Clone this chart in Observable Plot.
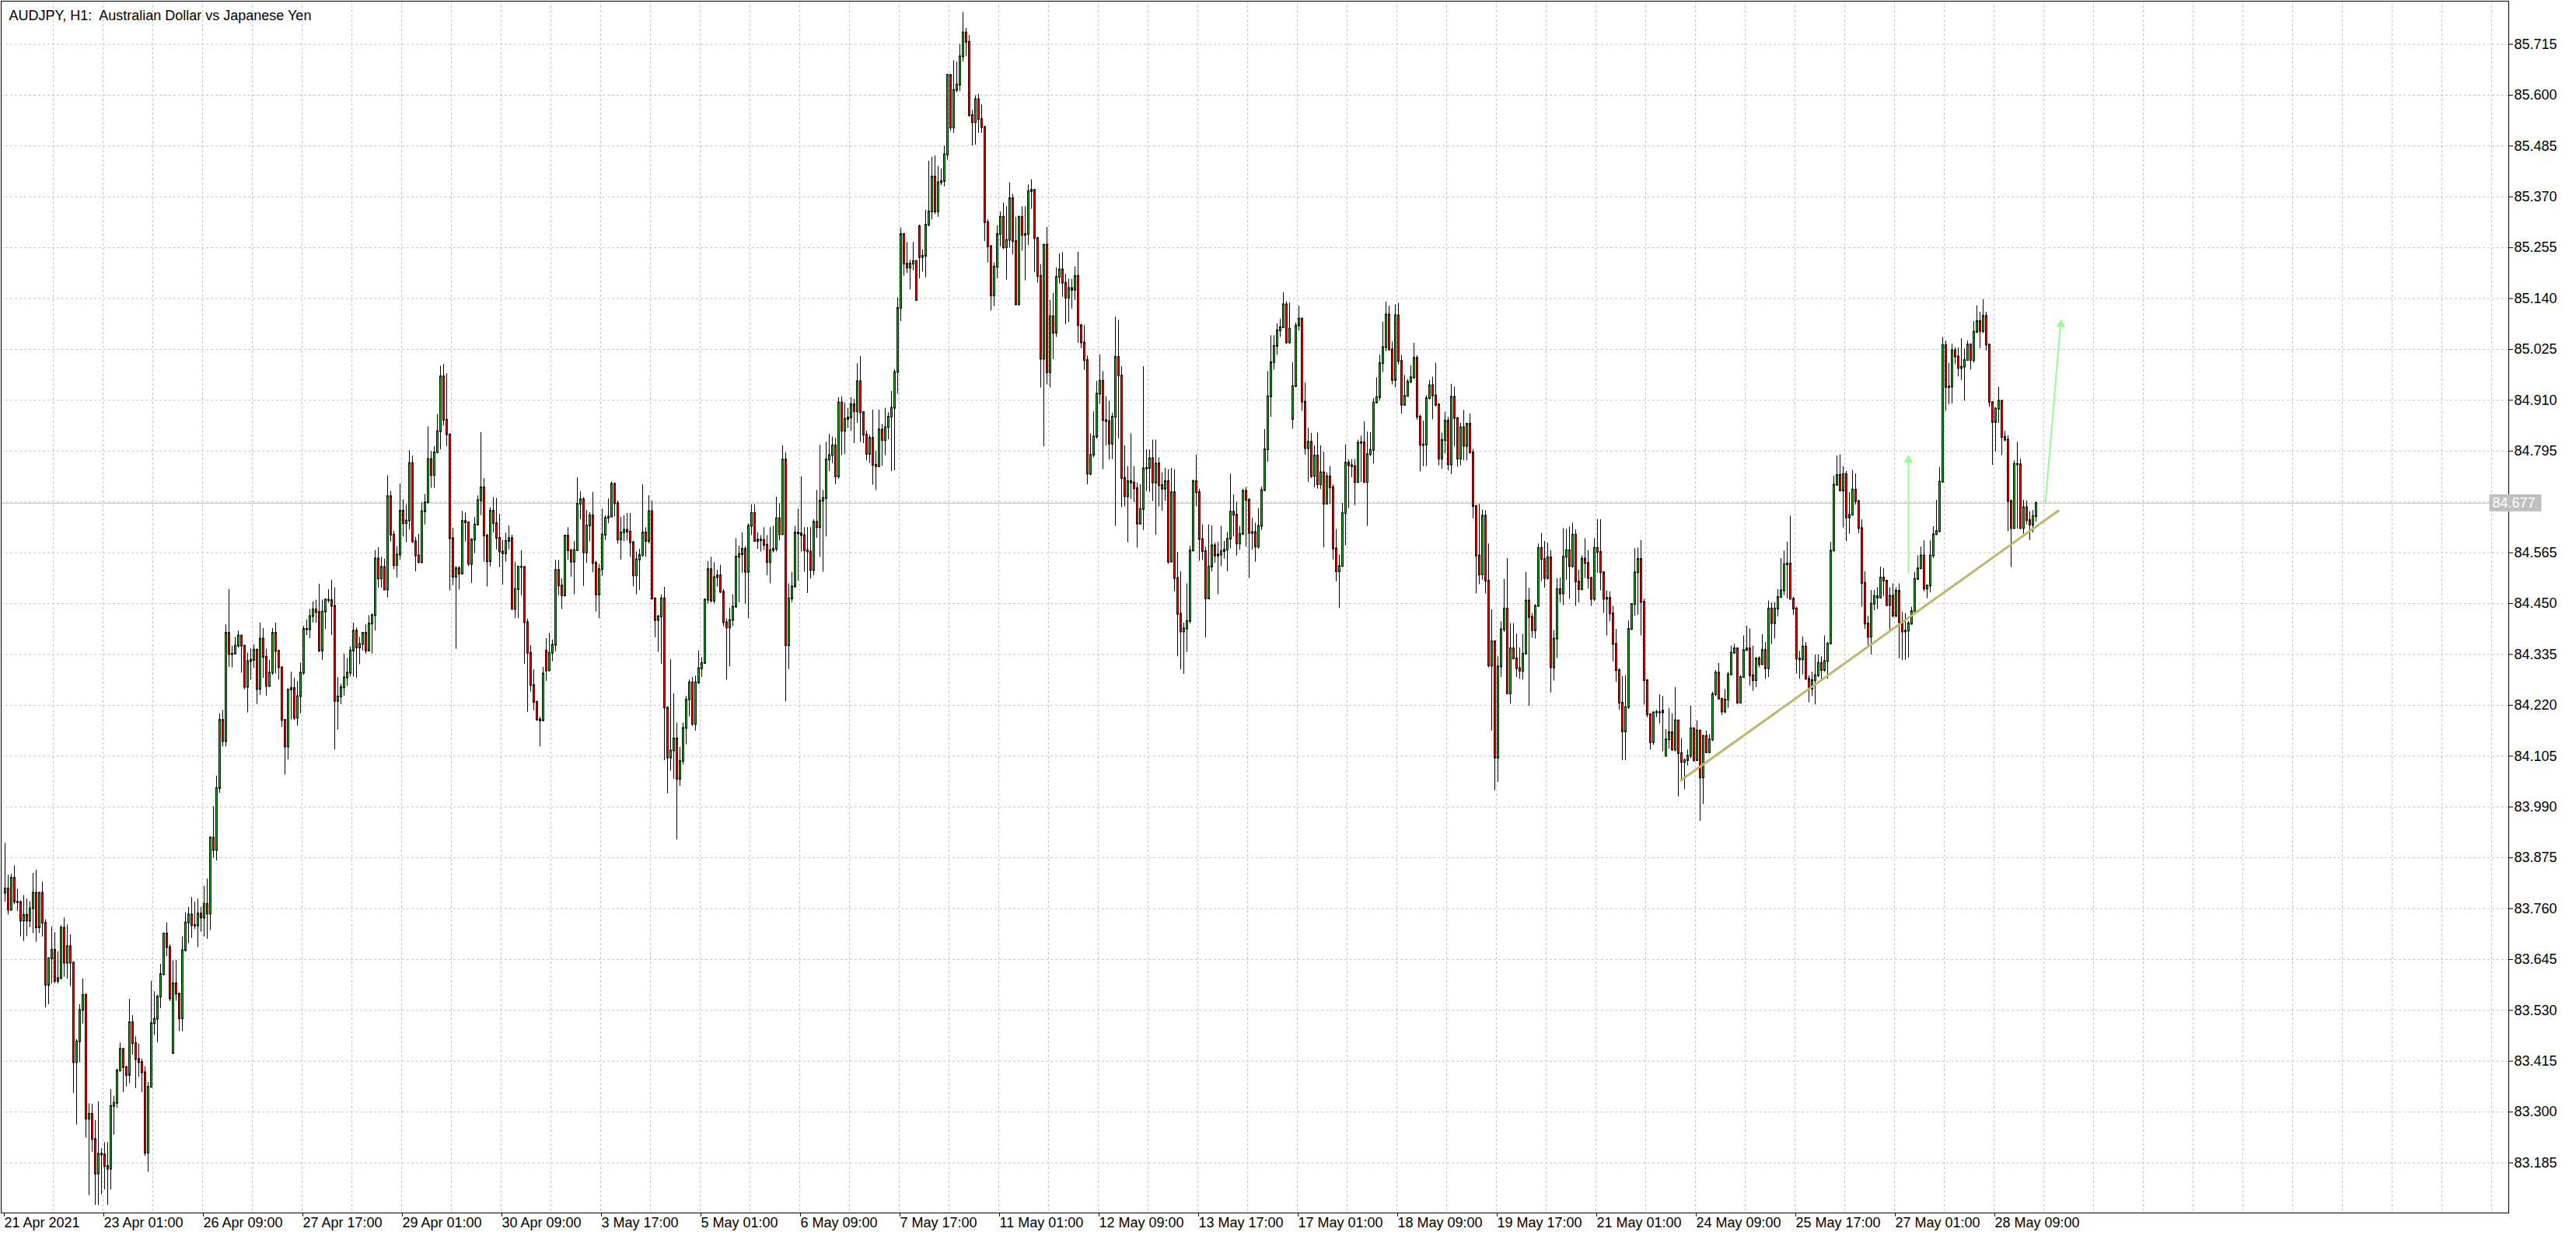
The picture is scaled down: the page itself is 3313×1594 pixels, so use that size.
<!DOCTYPE html>
<html><head><meta charset="utf-8">
<script src="https://cdn.jsdelivr.net/npm/d3@7"></script>
<script src="https://cdn.jsdelivr.net/npm/@observablehq/plot@0.6"></script>
<style>html,body{margin:0;padding:0;background:#fff;overflow:hidden}</style>
</head><body><div id="chart"></div>
<script>
const title = "AUDJPY, H1:  Australian Dollar vs Japanese Yen";
const xLabels = ["21 Apr 2021","23 Apr 01:00","26 Apr 09:00","27 Apr 17:00","29 Apr 01:00","30 Apr 09:00","3 May 17:00","5 May 01:00","6 May 09:00","7 May 17:00","11 May 01:00","12 May 09:00","13 May 17:00","17 May 01:00","18 May 09:00","19 May 17:00","21 May 01:00","24 May 09:00","25 May 17:00","27 May 01:00","28 May 09:00"];
const yTicks = [85.715,85.600,85.485,85.370,85.255,85.140,85.025,84.910,84.795,84.565,84.450,84.335,84.220,84.105,83.990,83.875,83.760,83.645,83.530,83.415,83.300,83.185];
const hiddenGridPrice = 84.680;
const lastPrice = 84.677;
const firstOpen = 83.795;
// bars that open after a weekend gap: [bar, open]
const gapOpens = [[54,83.433],[174,84.343],[294,85.303],[414,84.867],[534,84.105]];

const closes = [
83.805,83.757,83.829,83.775,83.774,83.732,83.745,83.732,83.760,83.795,
83.717,83.795,83.727,83.587,83.647,83.666,83.596,83.602,83.716,83.637,
83.674,83.637,83.412,83.459,83.530,83.564,83.284,83.295,83.238,83.160,
83.205,83.203,83.177,83.171,83.313,83.320,83.393,83.442,83.401,83.383,
83.502,83.455,83.419,83.412,83.389,83.207,83.356,83.500,83.510,83.560,
83.611,83.703,83.672,83.556,83.590,83.567,83.511,83.665,83.728,83.746,
83.722,83.721,83.748,83.739,83.770,83.748,83.920,83.892,84.032,84.186,
84.138,84.383,84.335,84.336,84.354,84.377,84.354,84.261,84.319,84.322,
84.345,84.256,84.370,84.329,84.263,84.293,84.383,84.342,84.305,84.186,
84.126,84.255,84.258,84.191,84.240,84.293,84.392,84.391,84.421,84.436,
84.430,84.343,84.431,84.458,84.457,84.444,84.229,84.239,84.260,84.282,
84.293,84.343,84.388,84.350,84.358,84.383,84.343,84.404,84.423,84.551,
84.506,84.532,84.481,84.692,84.605,84.536,84.560,84.659,84.631,84.637,
84.767,84.590,84.558,84.543,84.658,84.678,84.776,84.740,84.791,84.839,
84.963,84.865,84.832,84.597,84.510,84.529,84.517,84.636,84.633,84.539,
84.594,84.628,84.683,84.712,84.603,84.545,84.659,84.631,84.598,84.567,
84.563,84.591,84.597,84.437,84.482,84.533,84.532,84.407,84.338,84.265,
84.227,84.187,84.185,84.291,84.298,84.338,84.356,84.525,84.490,84.468,
84.603,84.570,84.544,84.570,84.675,84.685,84.565,84.626,84.649,84.541,
84.470,84.527,84.605,84.643,84.646,84.720,84.676,84.594,84.610,84.616,
84.612,84.588,84.513,84.549,84.559,84.610,84.591,84.658,84.461,84.412,
84.420,84.461,84.214,84.101,84.117,84.144,84.053,84.093,84.168,84.232,
84.271,84.177,84.271,84.303,84.315,84.458,84.527,84.456,84.509,84.513,
84.476,84.407,84.395,84.412,84.442,84.555,84.561,84.573,84.521,84.625,
84.654,84.591,84.594,84.593,84.582,84.543,84.570,84.573,84.642,84.606,
84.775,84.355,84.461,84.488,84.610,84.608,84.604,84.570,84.567,84.525,
84.634,84.622,84.682,84.688,84.775,84.785,84.807,84.737,84.904,84.840,
84.867,84.870,84.900,84.884,84.952,84.882,84.831,84.788,84.824,84.763,
84.760,84.843,84.819,84.848,84.872,84.892,84.973,85.118,85.285,85.218,
85.209,85.218,85.224,85.136,85.233,85.236,85.306,85.336,85.415,85.336,
85.402,85.405,85.465,85.645,85.526,85.611,85.623,85.687,85.741,85.720,
85.554,85.538,85.590,85.545,85.527,85.312,85.257,85.146,85.211,85.285,
85.324,85.255,85.272,85.366,85.269,85.126,85.324,85.283,85.285,85.382,
85.385,85.276,85.190,85.003,85.261,84.972,85.099,85.062,85.188,85.205,
85.175,85.141,85.163,85.159,85.190,85.079,85.040,85.000,84.743,84.786,
84.827,84.924,84.953,84.864,84.862,84.811,84.872,85.007,84.965,84.733,
84.692,84.726,84.723,84.710,84.630,84.663,84.755,84.756,84.778,84.723,
84.766,84.717,84.709,84.726,84.544,84.701,84.507,84.426,84.386,84.393,
84.410,84.569,84.726,84.701,84.595,84.568,84.461,84.533,84.581,84.558,
84.560,84.568,84.571,84.596,84.657,84.650,84.585,84.607,84.704,84.684,
84.609,84.611,84.578,84.625,84.706,84.798,84.918,84.995,85.032,85.067,
85.074,85.126,85.040,85.071,84.941,85.078,85.094,84.906,84.801,84.815,
84.738,84.784,84.719,84.746,84.675,84.737,84.712,84.574,84.522,84.534,
84.654,84.768,84.762,84.760,84.724,84.813,84.814,84.724,84.787,84.797,
84.904,84.916,84.993,85.029,85.103,85.024,84.955,85.101,84.998,84.899,
84.919,84.951,84.961,85.005,84.872,84.808,84.809,84.914,84.943,84.920,
84.899,84.777,84.819,84.863,84.764,84.917,84.869,84.777,84.848,84.806,
84.856,84.791,84.670,84.558,84.515,84.648,84.501,84.309,84.364,84.101,
84.307,84.391,84.438,84.246,84.348,84.325,84.303,84.297,84.336,84.456,
84.419,84.389,84.444,84.575,84.550,84.507,84.554,84.305,84.370,84.482,
84.472,84.555,84.570,84.534,84.605,84.499,84.482,84.551,84.541,84.507,
84.460,84.575,84.566,84.520,84.460,84.462,84.427,84.358,84.299,84.225,
84.160,84.215,84.392,84.448,84.520,84.550,84.453,84.276,84.199,84.136,
84.203,84.204,84.203,84.207,84.142,84.158,84.119,84.185,84.111,84.091,
84.095,84.105,84.167,84.095,84.162,84.056,84.150,84.113,84.142,84.244,
84.293,84.234,84.205,84.232,84.289,84.338,84.348,84.225,84.283,84.344,
84.348,84.287,84.276,84.325,84.312,84.344,84.303,84.438,84.405,84.438,
84.464,84.479,84.538,84.540,84.460,84.438,84.325,84.323,84.352,84.279,
84.257,84.276,84.287,84.315,84.299,84.319,84.359,84.569,84.718,84.740,
84.705,84.742,84.644,84.650,84.707,84.681,84.620,84.496,84.404,84.374,
84.449,84.466,84.463,84.508,84.501,84.446,84.467,84.422,84.478,84.407,
84.386,84.388,84.404,84.432,84.505,84.529,84.558,84.483,84.490,84.558,
84.606,84.613,84.725,85.034,84.939,84.940,85.022,85.008,84.982,84.985,
85.000,85.035,85.000,85.064,85.088,85.066,85.100,85.035,84.905,84.860,
84.890,84.908,84.826,84.820,84.681,84.620,84.765,84.764,84.620,84.667,
84.638,84.628,84.647,84.677];

const highs = [
83.908,83.836,83.838,83.857,83.804,83.778,83.790,83.782,83.776,83.840,
83.847,83.797,83.820,83.735,83.649,83.719,83.706,83.663,83.722,83.739,
83.723,83.701,83.640,83.464,83.543,83.601,83.568,83.319,83.318,83.281,
83.323,83.217,83.231,83.231,83.351,83.336,83.397,83.456,83.442,83.403,
83.555,83.518,83.470,83.454,83.420,83.403,83.367,83.596,83.572,83.565,
83.634,83.705,83.728,83.678,83.642,83.643,83.568,83.696,83.751,83.763,
83.785,83.775,83.782,83.763,83.811,83.827,83.922,83.991,84.060,84.201,
84.209,84.402,84.482,84.354,84.374,84.388,84.378,84.354,84.338,84.348,
84.357,84.347,84.406,84.394,84.347,84.322,84.394,84.406,84.345,84.306,
84.187,84.256,84.295,84.281,84.274,84.316,84.399,84.413,84.437,84.454,
84.458,84.494,84.458,84.461,84.482,84.503,84.486,84.283,84.268,84.336,
84.326,84.352,84.406,84.395,84.374,84.385,84.402,84.423,84.427,84.570,
84.577,84.555,84.551,84.739,84.704,84.614,84.579,84.721,84.685,84.674,
84.796,84.784,84.600,84.607,84.678,84.697,84.850,84.794,84.805,84.878,
84.987,84.991,84.970,84.832,84.621,84.534,84.534,84.659,84.655,84.635,
84.597,84.645,84.694,84.837,84.733,84.607,84.667,84.690,84.688,84.652,
84.593,84.610,84.626,84.605,84.544,84.533,84.570,84.533,84.415,84.355,
84.300,84.229,84.194,84.306,84.371,84.383,84.368,84.548,84.548,84.506,
84.605,84.622,84.572,84.591,84.735,84.703,84.690,84.661,84.656,84.702,
84.546,84.539,84.664,84.649,84.687,84.725,84.723,84.682,84.646,84.649,
84.654,84.654,84.591,84.567,84.573,84.719,84.622,84.694,84.682,84.461,
84.424,84.470,84.487,84.216,84.323,84.246,84.180,84.125,84.180,84.240,
84.277,84.283,84.286,84.343,84.328,84.461,84.545,84.555,84.543,84.525,
84.537,84.482,84.416,84.440,84.470,84.597,84.580,84.610,84.579,84.630,
84.674,84.674,84.610,84.604,84.622,84.604,84.622,84.625,84.691,84.676,
84.807,84.791,84.495,84.521,84.625,84.664,84.737,84.622,84.622,84.622,
84.640,84.706,84.809,84.706,84.815,84.833,84.827,84.824,84.916,84.918,
84.904,84.892,84.916,84.912,84.993,85.009,84.884,84.840,84.831,84.888,
84.795,84.888,84.855,84.892,84.882,84.930,84.979,85.142,85.300,85.285,
85.267,85.227,85.267,85.226,85.306,85.250,85.340,85.451,85.460,85.463,
85.439,85.433,85.485,85.647,85.645,85.678,85.675,85.715,85.787,85.751,
85.735,85.566,85.599,85.602,85.578,85.530,85.318,85.261,85.221,85.305,
85.336,85.356,85.348,85.402,85.376,85.324,85.327,85.348,85.348,85.397,
85.409,85.385,85.278,85.217,85.261,85.301,85.136,85.152,85.210,85.241,
85.244,85.195,85.184,85.184,85.212,85.245,85.079,85.079,85.010,84.834,
84.884,84.953,85.013,84.975,84.918,84.908,84.881,85.098,85.091,84.986,
84.807,84.760,84.834,84.760,84.723,84.719,84.986,84.798,84.797,84.820,
84.820,84.780,84.746,84.756,84.753,84.756,84.753,84.566,84.522,84.406,
84.495,84.580,84.730,84.786,84.709,84.628,84.578,84.628,84.626,84.587,
84.589,84.625,84.591,84.611,84.743,84.696,84.679,84.625,84.709,84.713,
84.688,84.643,84.632,84.665,84.714,84.844,84.975,85.056,85.056,85.083,
85.093,85.153,85.133,85.130,84.995,85.085,85.123,85.094,84.949,84.847,
84.835,84.807,84.836,84.807,84.793,84.746,84.760,84.719,84.618,84.560,
84.677,84.809,84.775,84.776,84.776,84.820,84.829,84.861,84.838,84.837,
84.914,84.961,85.012,85.087,85.132,85.123,85.042,85.126,85.130,85.011,
84.966,84.957,84.988,85.039,85.011,84.877,84.863,84.920,84.955,84.962,
84.994,84.903,84.836,84.883,84.871,84.946,84.940,84.871,84.858,84.887,
84.858,84.879,84.799,84.672,84.675,84.662,84.660,84.585,84.436,84.366,
84.330,84.409,84.505,84.552,84.405,84.405,84.381,84.350,84.381,84.521,
84.485,84.428,84.448,84.585,84.609,84.591,84.587,84.570,84.389,84.507,
84.508,84.620,84.618,84.623,84.632,84.617,84.526,84.558,84.597,84.570,
84.510,84.597,84.640,84.640,84.522,84.479,84.477,84.444,84.392,84.303,
84.285,84.287,84.411,84.448,84.575,84.576,84.593,84.460,84.278,84.201,
84.205,84.209,84.244,84.240,84.165,84.213,84.201,84.260,84.185,84.145,
84.099,84.119,84.218,84.170,84.185,84.164,84.152,84.162,84.154,84.250,
84.299,84.315,84.236,84.256,84.295,84.354,84.358,84.350,84.287,84.377,
84.399,84.393,84.354,84.328,84.330,84.380,84.362,84.456,84.452,84.453,
84.482,84.552,84.569,84.589,84.648,84.464,84.442,84.342,84.375,84.362,
84.287,84.295,84.334,84.334,84.330,84.377,84.362,84.589,84.738,84.784,
84.787,84.760,84.749,84.701,84.751,84.743,84.684,84.640,84.522,84.422,
84.480,84.480,84.486,84.533,84.529,84.503,84.486,84.495,84.486,84.495,
84.431,84.428,84.410,84.442,84.521,84.558,84.578,84.592,84.492,84.592,
84.624,84.684,84.758,85.052,85.044,84.994,85.037,85.029,85.028,85.049,
85.026,85.044,85.038,85.088,85.124,85.109,85.138,85.109,85.037,84.906,
84.894,84.940,84.905,84.840,84.830,84.685,84.773,84.815,84.777,84.684,
84.682,84.658,84.661,84.679];

const lows = [
83.775,83.746,83.754,83.769,83.754,83.697,83.686,83.697,83.717,83.704,
83.684,83.704,83.696,83.536,83.543,83.590,83.590,83.590,83.599,83.605,
83.601,83.584,83.342,83.271,83.412,83.499,83.241,83.111,83.209,83.089,
83.089,83.113,83.124,83.089,83.124,83.248,83.309,83.391,83.344,83.357,
83.364,83.429,83.353,83.379,83.344,83.200,83.164,83.357,83.473,83.457,
83.534,83.608,83.652,83.550,83.430,83.551,83.482,83.482,83.662,83.681,
83.693,83.713,83.672,83.707,83.696,83.691,83.711,83.874,83.868,84.021,
84.126,84.126,84.306,84.305,84.336,84.350,84.293,84.255,84.203,84.277,
84.304,84.222,84.243,84.281,84.241,84.261,84.288,84.291,84.277,84.170,
84.062,84.097,84.187,84.186,84.173,84.201,84.288,84.378,84.371,84.406,
84.406,84.340,84.322,84.392,84.451,84.378,84.119,84.164,84.222,84.241,
84.263,84.284,84.284,84.281,84.312,84.343,84.336,84.343,84.336,84.388,
84.485,84.485,84.481,84.463,84.590,84.527,84.508,84.548,84.601,84.588,
84.617,84.586,84.522,84.540,84.540,84.628,84.678,84.711,84.711,84.790,
84.798,84.852,84.805,84.479,84.491,84.347,84.481,84.517,84.590,84.534,
84.496,84.563,84.628,84.649,84.544,84.488,84.533,84.610,84.572,84.532,
84.492,84.544,84.572,84.437,84.416,84.416,84.468,84.313,84.204,84.250,
84.208,84.184,84.126,84.184,84.274,84.297,84.319,84.341,84.468,84.437,
84.465,84.548,84.510,84.470,84.569,84.640,84.489,84.541,84.590,84.520,
84.431,84.416,84.512,84.593,84.631,84.645,84.646,84.585,84.549,84.590,
84.592,84.555,84.488,84.470,84.480,84.555,84.555,84.585,84.458,84.373,
84.340,84.313,84.095,84.020,84.071,84.053,83.916,84.037,84.085,84.131,
84.194,84.173,84.162,84.267,84.283,84.313,84.449,84.452,84.449,84.488,
84.473,84.398,84.277,84.307,84.398,84.442,84.452,84.519,84.449,84.416,
84.604,84.589,84.573,84.567,84.570,84.513,84.495,84.565,84.567,84.592,
84.604,84.228,84.301,84.452,84.485,84.501,84.567,84.521,84.473,84.506,
84.513,84.598,84.555,84.521,84.601,84.749,84.767,84.719,84.731,84.785,
84.788,84.846,84.840,84.812,84.858,84.815,84.812,84.773,84.767,84.718,
84.706,84.758,84.761,84.785,84.821,84.749,84.751,84.924,85.088,85.191,
85.197,85.160,85.203,85.134,85.185,85.200,85.187,85.303,85.318,85.330,
85.324,85.396,85.393,85.453,85.518,85.514,85.606,85.608,85.675,85.687,
85.550,85.485,85.487,85.514,85.514,85.269,85.221,85.112,85.122,85.185,
85.257,85.251,85.182,85.255,85.239,85.124,85.124,85.247,85.180,85.260,
85.342,85.199,85.175,84.938,84.805,84.945,84.938,85.002,85.052,85.173,
85.143,85.081,85.086,85.116,85.136,85.039,85.027,84.978,84.719,84.739,
84.780,84.822,84.901,84.753,84.807,84.775,84.776,84.625,84.823,84.667,
84.669,84.588,84.686,84.679,84.576,84.628,84.616,84.704,84.702,84.681,
84.605,84.669,84.659,84.682,84.539,84.543,84.477,84.330,84.300,84.290,
84.340,84.404,84.568,84.669,84.546,84.548,84.373,84.460,84.522,84.541,
84.470,84.534,84.551,84.522,84.574,84.601,84.558,84.571,84.605,84.578,
84.507,84.571,84.544,84.573,84.616,84.704,84.770,84.871,84.978,85.012,
85.052,85.073,85.037,85.037,84.845,84.939,85.066,84.885,84.786,84.724,
84.733,84.712,84.709,84.708,84.576,84.674,84.674,84.549,84.499,84.439,
84.534,84.581,84.665,84.735,84.672,84.723,84.724,84.723,84.625,84.783,
84.766,84.903,84.908,84.973,85.020,85.022,84.945,84.938,84.990,84.879,
84.897,84.918,84.948,84.957,84.865,84.748,84.760,84.760,84.911,84.866,
84.895,84.762,84.754,84.789,84.750,84.742,84.805,84.759,84.762,84.773,
84.773,84.789,84.642,84.472,84.493,84.503,84.472,84.305,84.162,84.027,
84.046,84.283,84.385,84.244,84.223,84.323,84.283,84.279,84.278,84.336,
84.218,84.372,84.370,84.442,84.500,84.485,84.503,84.248,84.275,84.326,
84.452,84.446,84.503,84.460,84.530,84.444,84.452,84.479,84.507,84.483,
84.444,84.455,84.519,84.479,84.428,84.377,84.409,84.319,84.272,84.209,
84.095,84.095,84.211,84.389,84.422,84.424,84.377,84.221,84.192,84.119,
84.130,84.192,84.178,84.115,84.103,84.121,84.117,84.115,84.013,84.048,
84.029,84.083,84.099,84.091,84.095,83.958,83.996,84.111,84.111,84.138,
84.240,84.232,84.197,84.201,84.213,84.287,84.338,84.222,84.223,84.281,
84.346,84.264,84.252,84.260,84.305,84.311,84.279,84.283,84.358,84.370,
84.420,84.464,84.468,84.461,84.458,84.424,84.291,84.279,84.289,84.278,
84.226,84.240,84.221,84.283,84.276,84.295,84.279,84.358,84.568,84.716,
84.704,84.621,84.590,84.607,84.649,84.673,84.608,84.442,84.392,84.355,
84.334,84.434,84.437,84.464,84.466,84.443,84.389,84.418,84.418,84.325,
84.321,84.322,84.327,84.401,84.431,84.503,84.527,84.477,84.461,84.475,
84.552,84.604,84.610,84.723,84.885,84.900,84.902,84.991,84.963,84.955,
84.908,84.999,84.979,84.994,85.061,85.027,85.061,85.022,84.894,84.763,
84.793,84.858,84.785,84.816,84.613,84.532,84.618,84.619,84.618,84.607,
84.628,84.593,84.610,84.634];

// drawn objects (bar index, price)
const trendline = [{bar: 538.8, price: 84.050}, {bar: 660.2, price: 84.660}];
const arrows = [
  {bar1: 612, price1: 84.519, bar2: 612, price2: 84.785},
  {bar1: 656, price1: 84.677, bar2: 661, price2: 85.092}
];

if (closes.length !== highs.length || closes.length !== lows.length) {
  throw new Error("length mismatch " + closes.length + " " + highs.length + " " + lows.length);
}

const gapMap = new Map(gapOpens);
const bars = closes.map((c, i) => ({
  i,
  o: i === 0 ? firstOpen : (gapMap.has(i) ? gapMap.get(i) : closes[i - 1]),
  h: highs[i], l: lows[i], c
}));

const W = 3313, H = 1594, MT = 1, MR = 87, MB = 34, ML = 1;
const xDomain = [-1.25, 805];
const yDomain = [83.0717, 85.8126];
const xTicks = xLabels.map((_, k) => 32 * k - 0.5);
const labelOf = new Map(xTicks.map((t, k) => [t, xLabels[k]]));
const gridBars = d3.range(1, 51).map(k => 16 * k - 0.5);
const gridPrices = [...yTicks, hiddenGridPrice];

const GREEN = "#1fb41f", RED = "#f00000", GRID = "#c4c4c4";
const ARROW = "#98fb98", TREND = "#bdb76b";

const xs = Plot.scale({x: {type: "linear", domain: xDomain, range: [ML, W - MR]}});
const ys = Plot.scale({y: {type: "linear", domain: yDomain, range: [H - MB, MT]}});
arrows.forEach(a => {
  a.angle = Math.atan2(xs.apply(a.bar2) - xs.apply(a.bar1), ys.apply(a.price1) - ys.apply(a.price2)) * 180 / Math.PI;
});

const chart = Plot.plot({
  width: W, height: H,
  marginTop: MT, marginRight: MR, marginBottom: MB, marginLeft: ML,
  style: {fontFamily: "'Liberation Sans', Arial, sans-serif", fontSize: "18px", background: "#ffffff", color: "#000000"},
  x: {type: "linear", domain: xDomain},
  y: {type: "linear", domain: yDomain},
  marks: [
    Plot.ruleY(gridPrices, {stroke: GRID, strokeDasharray: "3,3"}),
    Plot.ruleX(gridBars, {stroke: GRID, strokeDasharray: "3,3"}),
    Plot.ruleY([lastPrice], {stroke: "#c0c0c0"}),
    Plot.ruleX(bars, {x: "i", y1: "l", y2: "h", stroke: "#000000", strokeWidth: 1}),
    Plot.rect(bars, {
      x1: d => d.i - 0.125, x2: d => d.i + 0.375,
      y1: "o", y2: "c",
      fill: d => d.c >= d.o ? GREEN : RED,
      stroke: "#000000", strokeWidth: 1,
      insetTop: -0.5, insetBottom: -0.5
    }),
    Plot.line(trendline, {x: "bar", y: "price", stroke: TREND, strokeWidth: 3}),
    Plot.link(arrows, {x1: "bar1", y1: "price1", x2: "bar2", y2: "price2", stroke: ARROW, strokeWidth: 2}),
    Plot.dot(arrows, {x: "bar2", y: "price2", symbol: "triangle", r: 4.3, fill: ARROW, stroke: "none", rotate: "angle", dy: 6}),
    Plot.frame({stroke: "#000000"}),
    Plot.axisY(yTicks, {anchor: "right", tickSize: 5, tickPadding: 2, tickFormat: d => d.toFixed(3), fontSize: 18, label: null, stroke: "#000000", fill: "#000000"}),
    Plot.axisX(xTicks, {anchor: "bottom", tickSize: 5, tickPadding: 1, tickFormat: d => labelOf.get(d), textAnchor: "start", dx: 1, fontSize: 18, label: null, stroke: "#000000", fill: "#000000"}),
    Plot.text([title], {frameAnchor: "top-left", text: d => d, dx: 10, dy: 11.5, lineAnchor: "top", textAnchor: "start", fontSize: 18, fill: "#000000"})
  ]
});

document.getElementById("chart").appendChild(chart);

// current price tag on the price axis
const yPix = chart.scale("y").apply(lastPrice);
const tag = d3.select(chart).append("g");
const tagText = tag.append("text")
  .attr("x", W - MR + 7).attr("y", yPix).attr("dy", "0.35em")
  .attr("fill", "#ffffff")
  .style("font-family", "'Liberation Sans', Arial, sans-serif").style("font-size", "18px")
  .text(lastPrice.toFixed(3));
const bb = tagText.node().getBBox();
tag.insert("rect", "text")
  .attr("x", bb.x - 4).attr("y", yPix - 11)
  .attr("width", bb.width + 12).attr("height", 22)
  .attr("fill", "#c0c0c0");
</script>
</body></html>
